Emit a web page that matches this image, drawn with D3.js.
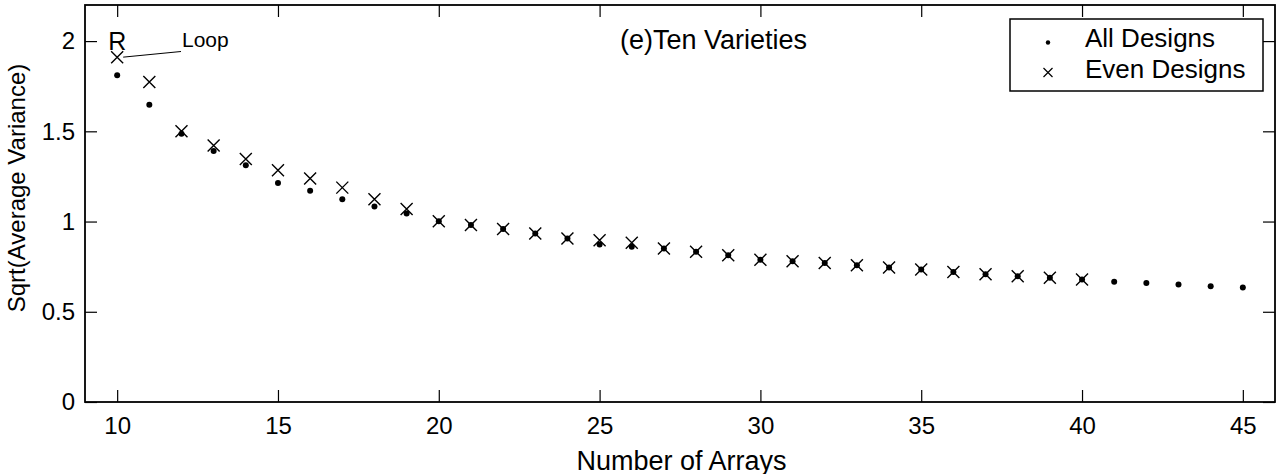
<!DOCTYPE html>
<html>
<head>
<meta charset="utf-8">
<script src="https://cdn.jsdelivr.net/npm/d3@7"></script>
<style>
  body { margin: 0; background: #fff; }
  svg text { font-family: "Liberation Sans", Arial, Helvetica, sans-serif; fill: #000; }
</style>
</head>
<body>
<div class="chart"></div>
<script>
// number of arrays
var arraysAll = [10, 11, 12, 13, 14, 15, 16, 17, 18, 19, 20, 21, 22, 23, 24, 25, 26, 27,
    28, 29, 30, 31, 32, 33, 34, 35, 36, 37, 38, 39, 40, 41, 42, 43, 44, 45];
var arraysEven = [10, 11, 12, 13, 14, 15, 16, 17, 18, 19, 20, 21, 22, 23, 24, 25, 26, 27,
    28, 29, 30, 31, 32, 33, 34, 35, 36, 37, 38, 39, 40];
// sqrt(average variance)
var allDesigns = [1.811, 1.647, 1.487, 1.391, 1.312, 1.214, 1.171, 1.123, 1.083, 1.044,
    1.002, 0.981, 0.959, 0.934, 0.906, 0.873, 0.860, 0.851, 0.832, 0.813, 0.788, 0.780,
    0.770, 0.758, 0.745, 0.734, 0.721, 0.708, 0.697, 0.688, 0.679, 0.666, 0.659, 0.651,
    0.642, 0.635];
var evenDesigns = [1.911, 1.773, 1.501, 1.422, 1.346, 1.284, 1.238, 1.188, 1.123, 1.070,
    1.002, 0.981, 0.959, 0.934, 0.906, 0.897, 0.882, 0.851, 0.832, 0.813, 0.788, 0.780,
    0.770, 0.758, 0.745, 0.734, 0.721, 0.708, 0.697, 0.688, 0.679];
var xTicks = [10, 15, 20, 25, 30, 35, 40, 45];
var yTicks = [0, 0.5, 1, 1.5, 2];
var legendLabels = ["All Designs", "Even Designs"];

const width = 1281;
const height = 474;
const plotLeft = 85, plotRight = 1275, plotTop = 5, plotBottom = 402;

const svg = d3.select('.chart')
    .append('svg')
    .attr('width', width)
    .attr('height', height);

const x = d3.scaleLinear().domain([9, 46]).range([plotLeft, plotRight]);
const y = d3.scaleLinear().domain([0, 2.2]).range([plotBottom, plotTop]);

// axes, ticks pointing inwards on all four sides
svg.append('g')
    .attr('transform', 'translate(0,' + plotBottom + ')')
    .call(d3.axisBottom(x).tickValues(xTicks).tickSize(-12).tickPadding(15).tickFormat(d3.format('d')));
svg.append('g')
    .attr('transform', 'translate(0,' + plotTop + ')')
    .call(d3.axisTop(x).tickValues(xTicks).tickSize(-12).tickFormat(''));
svg.append('g')
    .attr('transform', 'translate(' + plotLeft + ',0)')
    .call(d3.axisLeft(y).tickValues(yTicks).tickSize(-12).tickPadding(10).tickFormat(d3.format('')));
svg.append('g')
    .attr('transform', 'translate(' + plotRight + ',0)')
    .call(d3.axisRight(y).tickValues(yTicks).tickSize(-12).tickFormat(''));

svg.selectAll('.domain').remove();
svg.selectAll('.tick line').attr('stroke', '#000').attr('stroke-width', 1.2);
svg.selectAll('.tick text').attr('font-size', '24px').attr('fill', '#000');

svg.append('rect')
    .attr('x', plotLeft).attr('y', plotTop)
    .attr('width', plotRight - plotLeft).attr('height', plotBottom - plotTop)
    .attr('fill', 'none').attr('stroke', '#000').attr('stroke-width', 1.8);

// labels
svg.append('text')
    .attr('x', 681.5).attr('y', 469.5)
    .attr('text-anchor', 'middle').attr('font-size', '27px')
    .text('Number of Arrays');
svg.append('text')
    .attr('transform', 'translate(25,' + 188 + ') rotate(-90)')
    .attr('text-anchor', 'middle').attr('font-size', '24px')
    .text('Sqrt(Average Variance)');
svg.append('text')
    .attr('x', 713.5).attr('y', 49.3)
    .attr('text-anchor', 'middle').attr('font-size', '27px')
    .text('(e)Ten Varieties');

// points
const cross = 'M-6,-6L6,6M-6,6L6,-6';
svg.append('g')
    .selectAll('circle')
    .data(allDesigns)
    .enter()
    .append('circle')
        .attr('cx', function (d, i) { return x(arraysAll[i]); })
        .attr('cy', function (d) { return y(d); })
        .attr('r', 3)
        .attr('fill', '#000');
svg.append('g')
    .selectAll('path')
    .data(evenDesigns)
    .enter()
    .append('path')
        .attr('transform', function (d, i) { return 'translate(' + x(arraysEven[i]) + ',' + y(d) + ')'; })
        .attr('d', cross)
        .attr('fill', 'none')
        .attr('stroke', '#000')
        .attr('stroke-width', 1.4);

// "R" and "Loop" annotation
svg.append('text')
    .attr('x', x(10) - 9).attr('y', 50)
    .attr('font-size', '25px')
    .text('R');
svg.append('line')
    .attr('x1', x(10) + 6).attr('y1', y(evenDesigns[0]))
    .attr('x2', 181).attr('y2', 51.5)
    .attr('stroke', '#000').attr('stroke-width', 1);
svg.append('text')
    .attr('x', 182).attr('y', 46.5)
    .attr('font-size', '21px')
    .text('Loop');

// legend
const legend = svg.append('g');
legend.append('rect')
    .attr('x', 1010).attr('y', 19)
    .attr('width', 253).attr('height', 72)
    .attr('fill', '#fff').attr('stroke', '#000').attr('stroke-width', 1.5);
legend.append('circle')
    .attr('cx', 1048).attr('cy', 42.5).attr('r', 2.2).attr('fill', '#000');
legend.append('path')
    .attr('transform', 'translate(1048,72.5)')
    .attr('d', 'M-4.5,-4.5L4.5,4.5M-4.5,4.5L4.5,-4.5')
    .attr('stroke', '#000').attr('stroke-width', 1.2);
legend.selectAll('text')
    .data(legendLabels)
    .enter()
    .append('text')
        .attr('x', 1085)
        .attr('y', function (d, i) { return 46.7 + i * 31.6; })
        .attr('font-size', '26px')
        .text(function (d) { return d; });
</script>
</body>
</html>
